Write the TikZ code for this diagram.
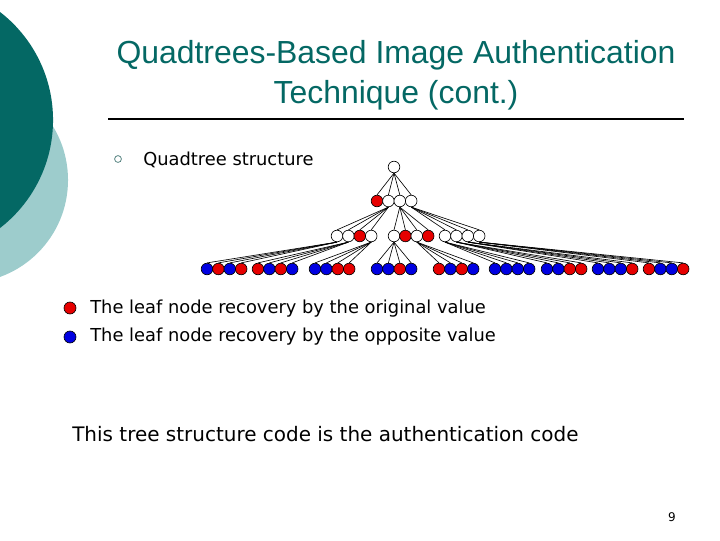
\documentclass[tikz,border=0pt]{standalone}
\usepackage{fontspec}
\setmainfont{DejaVu Sans}
\newfontfamily\titlefont{Liberation Sans}
\definecolor{slidedark}{RGB}{4,104,100}
\definecolor{slidelight}{RGB}{157,204,204}
\definecolor{leafred}{RGB}{230,0,0}
\definecolor{leafblue}{RGB}{0,0,225}
\tikzset{
  qnode/.style={circle,draw=black,line width=0.45pt,minimum size=0.29cm,inner sep=0pt},
  open/.style={qnode,fill=white},
  orig/.style={qnode,fill=leafred},
  oppo/.style={qnode,fill=leafblue},
  qedge/.style={black,line width=0.45pt},
  titletext/.style={anchor=base,inner sep=0pt,text=slidedark,font=\titlefont\fontsize{22.7}{27}\selectfont},
  bodytext/.style={anchor=base west,inner sep=0pt,font=\fontsize{12.7}{15}\selectfont}
}

\begin{document}
\begin{tikzpicture}[x=0.025cm,y=-0.025cm]
  \pgfmathsetmacro\dx{11.4}
  \useasboundingbox (0,0) rectangle (720,540);

% slide decoration at left
  \begin{scope}
    \clip (0,0) rectangle (720,540);
    \fill[slidelight] (-35,180) circle (2.575cm);
    \fill[slidedark] (-83.5,120) circle (3.4125cm);
  \end{scope}

% title
  \node[titletext] (title1) at (396,63) {Quadtrees-Based Image Authentication};
  \node[titletext] (title2) at (396,103) {Technique (cont.)};
  \draw[line width=1.4pt] (108,119) -- (684,119);

% bullet
  \node[circle,draw=slidedark!50!gray,line width=0.5pt,minimum size=0.17cm,inner sep=0pt] (bullet) at (118,159) {};
  \node[bodytext] (item) at (143,165) {Quadtree structure};

% root and level 1
  \node[open] (root) at (394,167) {};
  \foreach \c [count=\i] in {orig,open,open,open} {
    \node[\c] (a\i) at ({377+(\i-1)*\dx},201) {};
    \draw[qedge] (root.south) -- (a\i.north);
  }

% level 2, four children of a2, a3, a4
  \foreach \c [count=\i] in {open,open,orig,open, open,orig,open,orig, open,open,open,open} {
    \pgfmathtruncatemacro\g{div(\i-1,4)}
    \pgfmathtruncatemacro\k{mod(\i-1,4)}
    \pgfmathtruncatemacro\p{\g+2}
    \pgfmathsetmacro\xs{{337,394,445}[\g]}
    \node[\c] (b\i) at ({\xs+\k*\dx},236) {};
    \draw[qedge] (a\p.south) -- (b\i.north);
  }

% leaves
  \foreach \c [count=\i] in {oppo,orig,oppo,orig, orig,oppo,orig,oppo, oppo,oppo,orig,orig,
                             oppo,oppo,orig,oppo, orig,oppo,orig,oppo, oppo,oppo,oppo,oppo,
                             oppo,oppo,orig,orig, oppo,oppo,oppo,orig, orig,oppo,oppo,orig} {
    \pgfmathtruncatemacro\g{div(\i-1,4)}
    \pgfmathtruncatemacro\k{mod(\i-1,4)}
    \pgfmathtruncatemacro\p{{1,2,4,5,7,9,10,11,12}[\g]}
    \pgfmathsetmacro\xs{{207,258,315,377,439,495,547,598,649}[\g]}
    \node[\c] (c\i) at ({\xs+\k*\dx},269) {};
    \draw[qedge] (b\p.south) -- (c\i.north);
  }

% legend
  \node[orig,minimum size=0.3cm] (keyorig) at (70,308) {};
  \node[bodytext] (keyorigtext) at (90,313) {The leaf node recovery by the original value};
  \node[oppo,minimum size=0.3cm] (keyoppo) at (70,337) {};
  \node[bodytext] (keyoppotext) at (90,341) {The leaf node recovery by the opposite value};

% closing remark and page number
  \node[bodytext,font=\fontsize{14.2}{17}\selectfont] (remark) at (72,441) {This tree structure code is the authentication code};
  \node[font=\fontsize{8.5}{10}\selectfont] (pageno) at (672,517) {9};
\end{tikzpicture}
\end{document}
